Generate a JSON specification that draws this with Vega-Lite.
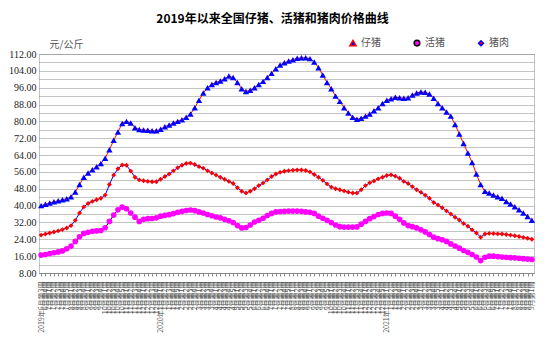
{
  "$schema": "https://vega.github.io/schema/vega-lite/v6.json",
  "width": 495,
  "height": 219,
  "autosize": {"type": "none"},
  "padding": {"left": 39, "top": 54, "right": 14, "bottom": 87},
  "background": "white",
  "title": {"text": "2019年以来全国仔猪、活猪和猪肉价格曲线", "fontSize": 12, "font": "Noto Sans CJK SC", "fontWeight": "bold", "color": "#000000", "offset": 12, "dx": -14, "anchor": "middle"},
  "config": {"view": {"stroke": "#888888", "strokeDash": [1, 1]}, "font": "Noto Sans CJK SC"},
  "data": {"values": [
    {"w":"2019年6月第3周","仔猪":40.0,"活猪":16.5,"猪肉":26.0},
    {"w":"2019年6月第4周","仔猪":40.6,"活猪":16.8,"猪肉":26.5},
    {"w":"2019年7月第1周","仔猪":41.2,"活猪":17.2,"猪肉":27.0},
    {"w":"2019年7月第2周","仔猪":41.8,"活猪":17.6,"猪肉":27.5},
    {"w":"2019年7月第3周","仔猪":42.3,"活猪":18.0,"猪肉":28.0},
    {"w":"2019年7月第4周","仔猪":42.8,"活猪":18.5,"猪肉":28.6},
    {"w":"2019年7月第5周","仔猪":43.3,"活猪":19.5,"猪肉":29.4},
    {"w":"2019年8月第1周","仔猪":44.2,"活猪":20.8,"猪肉":30.5},
    {"w":"2019年8月第2周","仔猪":46.5,"活猪":23.0,"猪肉":33.0},
    {"w":"2019年8月第3周","仔猪":50.0,"活猪":25.2,"猪肉":36.5},
    {"w":"2019年8月第4周","仔猪":53.5,"活猪":26.8,"猪肉":39.4},
    {"w":"2019年9月第1周","仔猪":55.5,"活猪":27.3,"猪肉":41.0},
    {"w":"2019年9月第2周","仔猪":57.0,"活猪":27.8,"猪肉":42.0},
    {"w":"2019年9月第3周","仔猪":58.5,"活猪":28.0,"猪肉":42.8},
    {"w":"2019年9月第4周","仔猪":60.0,"活猪":28.2,"猪肉":43.5},
    {"w":"2019年10月第1周","仔猪":62.5,"活猪":29.5,"猪肉":45.0},
    {"w":"2019年10月第2周","仔猪":66.5,"活猪":32.5,"猪肉":50.0},
    {"w":"2019年10月第3周","仔猪":71.0,"活猪":35.5,"猪肉":54.5},
    {"w":"2019年10月第4周","仔猪":75.0,"活猪":38.0,"猪肉":57.5},
    {"w":"2019年10月第5周","仔猪":79.0,"活猪":39.3,"猪肉":59.3},
    {"w":"2019年11月第1周","仔猪":80.0,"活猪":38.5,"猪肉":59.2},
    {"w":"2019年11月第2周","仔猪":79.2,"活猪":36.5,"猪肉":56.4},
    {"w":"2019年11月第3周","仔猪":77.0,"活猪":34.5,"猪肉":53.5},
    {"w":"2019年11月第4周","仔猪":76.2,"活猪":32.5,"猪肉":52.2},
    {"w":"2019年12月第1周","仔猪":75.9,"活猪":33.5,"猪肉":51.8},
    {"w":"2019年12月第2周","仔猪":75.8,"活猪":33.8,"猪肉":51.5},
    {"w":"2019年12月第3周","仔猪":75.5,"活猪":33.9,"猪肉":51.3},
    {"w":"2019年12月第4周","仔猪":75.5,"活猪":34.2,"猪肉":51.3},
    {"w":"2020年1月第1周","仔猪":76.3,"活猪":35.0,"猪肉":52.5},
    {"w":"2020年1月第2周","仔猪":77.5,"活猪":35.4,"猪肉":53.8},
    {"w":"2020年1月第3周","仔猪":78.3,"活猪":35.7,"猪肉":55.0},
    {"w":"2020年1月第4周","仔猪":79.2,"活猪":36.2,"猪肉":56.5},
    {"w":"2020年1月第5周","仔猪":80.0,"活猪":36.8,"猪肉":58.0},
    {"w":"2020年2月第1周","仔猪":80.8,"活猪":37.3,"猪肉":59.2},
    {"w":"2020年2月第2周","仔猪":82.0,"活猪":37.7,"猪肉":60.0},
    {"w":"2020年2月第3周","仔猪":83.5,"活猪":37.9,"猪肉":60.2},
    {"w":"2020年2月第4周","仔猪":86.5,"活猪":37.6,"猪肉":59.5},
    {"w":"2020年3月第1周","仔猪":90.0,"活猪":37.0,"猪肉":58.5},
    {"w":"2020年3月第2周","仔猪":93.5,"活猪":36.5,"猪肉":57.8},
    {"w":"2020年3月第3周","仔猪":96.0,"活猪":35.8,"猪肉":56.5},
    {"w":"2020年3月第4周","仔猪":97.5,"活猪":35.2,"猪肉":55.5},
    {"w":"2020年4月第1周","仔猪":98.5,"活猪":34.6,"猪肉":54.5},
    {"w":"2020年4月第2周","仔猪":99.2,"活猪":34.2,"猪肉":53.5},
    {"w":"2020年4月第3周","仔猪":100.2,"活猪":33.5,"猪肉":52.5},
    {"w":"2020年4月第4周","仔猪":101.5,"活猪":32.8,"猪肉":51.5},
    {"w":"2020年4月第5周","仔猪":100.8,"活猪":32.0,"猪肉":50.5},
    {"w":"2020年5月第1周","仔猪":98.5,"活猪":30.5,"猪肉":48.5},
    {"w":"2020年5月第2周","仔猪":95.5,"活猪":29.4,"猪肉":46.8},
    {"w":"2020年5月第3周","仔猪":94.2,"活猪":29.6,"猪肉":46.0},
    {"w":"2020年5月第4周","仔猪":94.8,"活猪":30.8,"猪肉":46.8},
    {"w":"2020年6月第1周","仔猪":96.0,"活猪":32.2,"猪肉":48.0},
    {"w":"2020年6月第2周","仔猪":97.5,"活猪":33.0,"猪肉":49.5},
    {"w":"2020年6月第3周","仔猪":99.0,"活猪":34.0,"猪肉":50.7},
    {"w":"2020年6月第4周","仔猪":100.8,"活猪":35.3,"猪肉":52.2},
    {"w":"2020年7月第1周","仔猪":102.8,"活猪":36.3,"猪肉":53.8},
    {"w":"2020年7月第2周","仔猪":105.0,"活猪":37.0,"猪肉":55.0},
    {"w":"2020年7月第3周","仔猪":106.8,"活猪":37.2,"猪肉":55.8},
    {"w":"2020年7月第4周","仔猪":107.8,"活猪":37.3,"猪肉":56.3},
    {"w":"2020年7月第5周","仔猪":108.7,"活猪":37.4,"猪肉":56.6},
    {"w":"2020年8月第1周","仔猪":109.3,"活猪":37.4,"猪肉":56.8},
    {"w":"2020年8月第2周","仔猪":110.0,"活猪":37.4,"猪肉":56.9},
    {"w":"2020年8月第3周","仔猪":110.2,"活猪":37.3,"猪肉":56.9},
    {"w":"2020年8月第4周","仔猪":110.2,"活猪":37.0,"猪肉":56.7},
    {"w":"2020年9月第1周","仔猪":109.8,"活猪":36.8,"猪肉":56.0},
    {"w":"2020年9月第2周","仔猪":108.2,"活猪":36.3,"猪肉":54.8},
    {"w":"2020年9月第3周","仔猪":105.5,"活猪":35.0,"猪肉":53.5},
    {"w":"2020年9月第4周","仔猪":102.0,"活猪":34.0,"猪肉":52.0},
    {"w":"2020年9月第5周","仔猪":98.5,"活猪":33.0,"猪肉":50.3},
    {"w":"2020年10月第1周","仔猪":95.5,"活猪":32.0,"猪肉":48.8},
    {"w":"2020年10月第2周","仔猪":92.0,"活猪":30.8,"猪肉":48.0},
    {"w":"2020年10月第3周","仔猪":89.5,"活猪":30.0,"猪肉":47.5},
    {"w":"2020年10月第4周","仔猪":86.5,"活猪":29.8,"猪肉":47.0},
    {"w":"2020年11月第1周","仔猪":84.0,"活猪":29.8,"猪肉":46.4},
    {"w":"2020年11月第2周","仔猪":82.0,"活猪":29.8,"猪肉":46.0},
    {"w":"2020年11月第3周","仔猪":81.0,"活猪":29.9,"猪肉":46.0},
    {"w":"2020年11月第4周","仔猪":81.5,"活猪":31.2,"猪肉":47.5},
    {"w":"2020年12月第1周","仔猪":82.5,"活猪":32.5,"猪肉":49.5},
    {"w":"2020年12月第2周","仔猪":83.5,"活猪":33.8,"猪肉":50.8},
    {"w":"2020年12月第3周","仔猪":85.0,"活猪":34.8,"猪肉":51.7},
    {"w":"2020年12月第4周","仔猪":86.5,"活猪":35.8,"猪肉":52.7},
    {"w":"2020年12月第5周","仔猪":88.5,"活猪":36.3,"猪肉":53.5},
    {"w":"2021年1月第1周","仔猪":90.0,"活猪":36.5,"猪肉":54.3},
    {"w":"2021年1月第2周","仔猪":90.8,"活猪":36.3,"猪肉":54.6},
    {"w":"2021年1月第3周","仔猪":91.5,"活猪":35.0,"猪肉":54.0},
    {"w":"2021年1月第4周","仔猪":91.2,"活猪":33.5,"猪肉":53.0},
    {"w":"2021年2月第1周","仔猪":91.0,"活猪":31.8,"猪肉":51.5},
    {"w":"2021年2月第2周","仔猪":91.2,"活猪":30.5,"猪肉":50.5},
    {"w":"2021年2月第3周","仔猪":92.5,"活猪":30.0,"猪肉":49.0},
    {"w":"2021年2月第4周","仔猪":93.5,"活猪":29.4,"猪肉":47.5},
    {"w":"2021年3月第1周","仔猪":94.0,"活猪":28.5,"猪肉":46.3},
    {"w":"2021年3月第2周","仔猪":93.8,"活猪":27.5,"猪肉":45.0},
    {"w":"2021年3月第3周","仔猪":93.0,"活猪":26.3,"猪肉":43.5},
    {"w":"2021年3月第4周","仔猪":91.0,"活猪":25.0,"猪肉":41.5},
    {"w":"2021年3月第5周","仔猪":88.5,"活猪":24.3,"猪肉":40.3},
    {"w":"2021年4月第1周","仔猪":86.5,"活猪":23.8,"猪肉":39.0},
    {"w":"2021年4月第2周","仔猪":84.5,"活猪":23.0,"猪肉":37.5},
    {"w":"2021年4月第3周","仔猪":82.5,"活猪":21.8,"猪肉":36.0},
    {"w":"2021年4月第4周","仔猪":78.5,"活猪":20.8,"猪肉":34.5},
    {"w":"2021年5月第1周","仔猪":74.0,"活猪":19.8,"猪肉":33.2},
    {"w":"2021年5月第2周","仔猪":69.5,"活猪":18.7,"猪肉":31.5},
    {"w":"2021年5月第3周","仔猪":65.0,"活猪":17.8,"猪肉":30.2},
    {"w":"2021年5月第4周","仔猪":60.5,"活猪":16.8,"猪肉":28.5},
    {"w":"2021年6月第1周","仔猪":55.0,"活猪":15.6,"猪肉":27.0},
    {"w":"2021年6月第2周","仔猪":50.0,"活猪":13.9,"猪肉":25.0},
    {"w":"2021年6月第3周","仔猪":46.8,"活猪":15.5,"猪肉":26.5},
    {"w":"2021年6月第4周","仔猪":46.0,"活猪":16.0,"猪肉":26.8},
    {"w":"2021年6月第5周","仔猪":45.0,"活猪":16.0,"猪肉":26.7},
    {"w":"2021年7月第1周","仔猪":44.2,"活猪":15.8,"猪肉":26.6},
    {"w":"2021年7月第2周","仔猪":43.5,"活猪":15.6,"猪肉":26.5},
    {"w":"2021年7月第3周","仔猪":42.0,"活猪":15.5,"猪肉":26.3},
    {"w":"2021年7月第4周","仔猪":40.8,"活猪":15.3,"猪肉":26.0},
    {"w":"2021年8月第1周","仔猪":39.5,"活猪":15.2,"猪肉":25.7},
    {"w":"2021年8月第2周","仔猪":38.0,"活猪":15.0,"猪肉":25.3},
    {"w":"2021年8月第3周","仔猪":36.5,"活猪":14.8,"猪肉":24.9},
    {"w":"2021年8月第4周","仔猪":34.8,"活猪":14.6,"猪肉":24.5},
    {"w":"2021年9月第1周","仔猪":33.0,"活猪":14.4,"猪肉":24.0}
  ]},
  "transform": [{"fold": ["仔猪", "活猪", "猪肉"], "as": ["s", "v"]}],
  "encoding": {
    "x": {
      "field": "w", "type": "ordinal", "sort": null,
      "scale": {"type": "point", "padding": 0.5},
      "axis": {
        "title": null, "labelAngle": -90, "labelFontSize": 7, "labelFont": "Noto Sans CJK SC",
        "labelColor": "#555555", "labelOverlap": false, "labelPadding": 5, "labelBound": false,
        "ticks": true, "tickSize": 3, "tickColor": "#888888", "domainColor": "#888888", "grid": false,
        "labelExpr": "datum.value == '2019年6月第3周' || indexof(datum.value, '年1月第1周') == 4 ? datum.value : substring(datum.value, 5)"
      }
    },
    "y": {
      "field": "v", "type": "quantitative",
      "scale": {"domain": [8, 112], "nice": false, "zero": false},
      "axis": {
        "values": [8, 12, 16, 20, 24, 28, 32, 36, 40, 44, 48, 52, 56, 60, 64, 68, 72, 76, 80, 84, 88, 92, 96, 100, 104, 108, 112],
        "format": ".2f", "labelFont": "Liberation Serif", "labelFontSize": 10, "labelColor": "#222222",
        "grid": true, "gridDash": [1, 1], "gridColor": "#888888", "domain": false, "ticks": false, "labelPadding": 3,
        "title": "元/公斤", "titleAngle": 0, "titleX": 10, "titleY": -10, "titleAlign": "left", "titleBaseline": "middle",
        "titleFont": "Noto Sans CJK SC", "titleFontSize": 10, "titleFontWeight": "normal", "titleColor": "#555555"
      }
    }
  },
  "layer": [
    {
      "mark": {"type": "line", "strokeWidth": 1},
      "encoding": {
        "color": {
          "field": "s", "type": "nominal",
          "scale": {"domain": ["仔猪", "活猪", "猪肉"], "range": ["#ff0000", "#000000", "#0000ff"]},
          "legend": {
            "orient": "none", "legendX": 309, "legendY": -16, "direction": "horizontal", "title": null,
            "symbolSize": 256, "symbolStrokeWidth": 1.5, "labelFont": "Noto Sans CJK SC", "labelFontSize": 10,
            "labelColor": "#555555", "columnPadding": 30, "labelOffset": 3,
            "encode": {"symbols": {"update": {
              "shape": {"signal": "datum.value === '仔猪' ? 'M-1,0H1M0,-0.42L0.4,0.3H-0.4Z' : datum.value === '活猪' ? 'M-1,0H1M0.24,0A0.24,0.24 0 1 1 -0.24,0A0.24,0.24 0 1 1 0.24,0Z' : 'M-1,0H1M0,-0.32L0.32,0L0,0.32L-0.32,0Z'"},
              "fill": {"signal": "datum.value === '仔猪' ? '#0000ff' : datum.value === '活猪' ? '#ff00ff' : '#ff0000'"},
              "fillOpacity": {"value": 1},
              "size": {"value": 256},
              "strokeWidth": {"value": 1.5}
            }}}
          }
        }
      }
    },
    {
      "mark": {"type": "point", "filled": true, "opacity": 1, "strokeWidth": 0},
      "encoding": {
        "shape": {"field": "s", "type": "nominal", "scale": {"domain": ["仔猪", "活猪", "猪肉"], "range": ["triangle-up", "circle", "diamond"]}, "legend": null},
        "fill": {"field": "s", "type": "nominal", "scale": {"domain": ["仔猪", "活猪", "猪肉"], "range": ["#0000ff", "#ff00ff", "#ff0000"]}, "legend": null},
        "size": {"field": "s", "type": "ordinal", "scale": {"domain": ["仔猪", "活猪", "猪肉"], "range": [40, 24, 38]}, "legend": null}
      }
    }
  ]
}
